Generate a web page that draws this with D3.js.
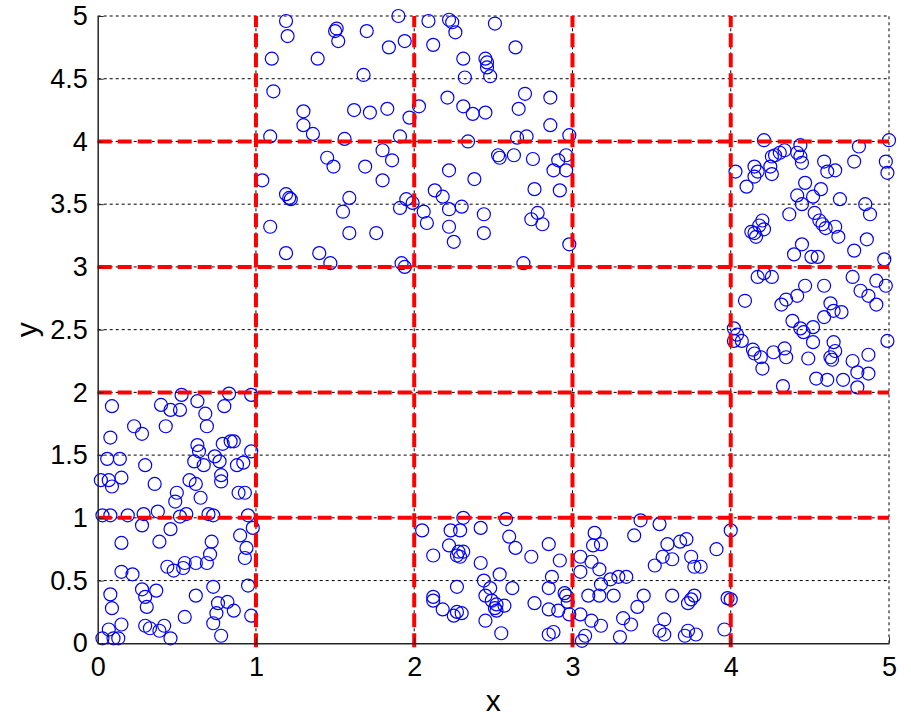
<!DOCTYPE html>
<html>
<head>
<meta charset="utf-8">
<script src="https://cdn.jsdelivr.net/npm/d3@7"></script>
<style>
  body { margin: 0; background: #fff; }
  svg { display: block; }
  .tick text { font-family: "Liberation Sans", Arial, sans-serif; font-size: 27px; fill: #000; }
</style>
</head>
<body>
<div id="chart"></div>
<script>
// cluster in x 0-1, y 0-2
var clusterA = [
  [0.53,1.98],[0.83,1.99],[0.97,1.98],[0.09,1.89],[0.40,1.90],[0.46,1.86],[0.52,1.86],[0.63,1.93],
  [0.68,1.83],[0.80,1.89],[0.23,1.73],[0.28,1.67],[0.43,1.73],[0.69,1.73],[0.08,1.64],[0.63,1.58],
  [0.64,1.53],[0.79,1.59],[0.84,1.61],[0.86,1.61],[0.97,1.53],[0.06,1.47],[0.14,1.47],[0.61,1.45],
  [0.67,1.42],[0.74,1.49],[0.77,1.45],[0.30,1.42],[0.88,1.42],[0.92,1.44],[0.02,1.30],[0.07,1.30],
  [0.09,1.25],[0.15,1.32],[0.36,1.27],[0.58,1.30],[0.62,1.27],[0.78,1.34],[0.78,1.29],[0.89,1.20],
  [0.93,1.20],[0.50,1.20],[0.49,1.13],[0.65,1.16],[0.38,1.05],
  [0.03,1.02],[0.08,1.02],[0.19,1.02],[0.29,1.03],[0.52,1.01],[0.56,1.03],[0.70,1.03],[0.73,1.02],
  [0.95,1.02],[0.28,0.94],[0.46,0.91],[0.90,0.86],[0.98,0.92],[0.15,0.80],[0.39,0.81],[0.72,0.81],
  [0.94,0.76],[0.71,0.71],[0.69,0.64],[0.93,0.68],[0.62,0.64],[0.55,0.64],[0.54,0.60],[0.44,0.61],
  [0.48,0.58],[0.15,0.57],[0.22,0.55],[0.08,0.39],[0.09,0.28],[0.28,0.43],[0.30,0.37],[0.31,0.29],
  [0.37,0.42],[0.62,0.38],[0.73,0.45],[0.95,0.46],[0.76,0.32],[0.82,0.33],[0.75,0.24],[0.86,0.26],
  [0.55,0.21],[0.97,0.22],[0.73,0.16],[0.15,0.15],[0.07,0.11],[0.30,0.14],[0.33,0.12],[0.42,0.14],
  [0.39,0.10],[0.03,0.04],[0.10,0.04],[0.13,0.04],[0.46,0.04],[0.78,0.06]
];
// cluster in x 1-3, y 3-5
var clusterB = [
  [1.19,4.96],[1.90,5.00],[1.20,4.84],[1.50,4.88],[1.51,4.90],[1.52,4.80],[1.70,4.88],[1.94,4.80],
  [1.84,4.75],[1.10,4.66],[1.39,4.66],[1.68,4.53],[1.11,4.40],[1.30,4.24],[1.30,4.13],[1.36,4.06],
  [1.62,4.25],[1.72,4.23],[1.83,4.26],[1.97,4.19],[2.03,4.28],[1.09,4.04],[1.56,4.02],[1.91,4.04],
  [1.45,3.87],[1.49,3.80],[1.69,3.80],[1.80,3.93],[1.86,3.85],[1.04,3.69],[1.80,3.69],[1.19,3.58],
  [1.21,3.55],[1.22,3.54],[1.59,3.55],[1.55,3.44],[1.91,3.47],[1.95,3.54],[1.99,3.51],[1.09,3.32],
  [1.59,3.27],[1.76,3.27],[1.19,3.11],[1.40,3.11],[1.47,3.03],[1.92,3.03],[1.94,3.00],
  [2.09,4.96],[2.22,4.97],[2.24,4.95],[2.26,4.87],[2.51,4.94],[2.12,4.77],[2.64,4.75],[2.31,4.66],
  [2.45,4.66],[2.46,4.63],[2.46,4.59],[2.32,4.51],[2.48,4.52],[2.21,4.35],[2.70,4.38],[2.86,4.35],
  [2.31,4.28],[2.37,4.22],[2.45,4.23],[2.66,4.26],[2.86,4.13],[2.65,4.03],[2.71,4.04],[2.98,4.05],
  [2.34,4.00],[2.53,3.89],[2.54,3.87],[2.63,3.89],[2.75,3.86],[2.91,3.85],[2.96,3.89],[2.88,3.77],
  [2.96,3.77],[2.22,3.77],[2.38,3.70],[2.13,3.61],[2.18,3.56],[2.76,3.62],[2.92,3.61],[2.06,3.44],
  [2.08,3.35],[2.22,3.46],[2.30,3.48],[2.44,3.42],[2.78,3.43],[2.74,3.38],[2.81,3.34],[2.22,3.32],
  [2.44,3.27],[2.25,3.20],[2.98,3.18],[2.69,3.03]
];
// cluster in x 4-5, y 2-4
var clusterC = [
  [4.21,4.01],[4.44,3.97],[4.81,3.96],[5.00,4.01],[4.34,3.93],[4.31,3.91],[4.28,3.89],[4.26,3.88],
  [4.42,3.91],[4.44,3.88],[4.45,3.83],[4.59,3.84],[4.61,3.76],[4.66,3.77],[4.78,3.84],[4.98,3.84],
  [4.99,3.75],[4.03,3.76],[4.15,3.80],[4.17,3.76],[4.15,3.72],[4.25,3.80],[4.26,3.74],[4.10,3.64],
  [4.47,3.67],[4.42,3.57],[4.52,3.56],[4.57,3.62],[4.69,3.54],[4.45,3.50],[4.85,3.50],[4.88,3.42],
  [4.37,3.42],[4.53,3.43],[4.56,3.37],[4.58,3.34],[4.60,3.31],[4.66,3.32],[4.68,3.24],[4.20,3.37],
  [4.18,3.33],[4.21,3.30],[4.13,3.28],[4.16,3.24],[4.15,3.27],[4.86,3.22],[4.45,3.18],[4.40,3.10],
  [4.51,3.08],[4.55,3.08],[4.78,3.13],[4.97,3.06],
  [4.17,2.92],[4.21,2.95],[4.26,2.92],[4.77,2.92],[4.92,2.89],[4.98,2.85],[4.47,2.85],[4.59,2.85],
  [4.82,2.81],[4.87,2.77],[4.92,2.70],[4.09,2.73],[4.42,2.77],[4.35,2.74],[4.32,2.70],[4.63,2.71],
  [4.65,2.65],[4.70,2.64],[4.59,2.60],[4.39,2.57],[4.52,2.52],[4.44,2.51],[4.46,2.48],[4.02,2.51],
  [4.04,2.46],[4.07,2.41],[4.02,2.41],[4.52,2.40],[4.65,2.40],[4.99,2.41],[4.14,2.34],[4.15,2.31],
  [4.19,2.28],[4.27,2.32],[4.34,2.35],[4.35,2.28],[4.49,2.27],[4.66,2.33],[4.63,2.28],[4.64,2.26],
  [4.87,2.30],[4.77,2.25],[4.20,2.19],[4.80,2.16],[4.87,2.15],[4.54,2.11],[4.61,2.10],[4.71,2.10],
  [4.33,2.05],[4.80,2.04]
];
// cluster in x 2-4, y 0-1
var clusterD = [
  [2.31,1.00],[2.58,0.99],[2.05,0.90],[2.23,0.90],[2.29,0.90],[2.42,0.92],[2.60,0.85],[2.64,0.76],
  [2.85,0.79],[2.22,0.78],[2.12,0.70],[2.28,0.73],[2.31,0.73],[2.27,0.70],[2.29,0.69],[2.74,0.69],
  [2.92,0.66],[2.42,0.64],[2.54,0.55],[2.87,0.53],[2.44,0.50],[2.27,0.45],[2.48,0.44],[2.62,0.44],
  [2.85,0.44],[2.45,0.38],[2.12,0.37],[2.12,0.34],[2.49,0.34],[2.52,0.31],[2.51,0.28],[2.57,0.30],
  [2.52,0.26],[2.76,0.32],[2.95,0.40],[2.96,0.38],[2.97,0.33],[2.18,0.27],[2.27,0.25],[2.25,0.22],
  [2.30,0.24],[2.45,0.18],[2.85,0.27],[2.91,0.26],[2.98,0.23],[2.55,0.08],[2.85,0.07],[2.88,0.09],
  [3.43,0.98],[3.55,0.95],[3.14,0.88],[3.39,0.86],[4.00,0.90],[3.13,0.78],[3.18,0.79],[3.60,0.79],
  [3.68,0.81],[3.72,0.83],[3.91,0.75],[3.05,0.69],[3.57,0.69],[3.63,0.67],[3.52,0.62],[3.75,0.69],
  [3.77,0.61],[3.81,0.61],[3.05,0.57],[3.12,0.65],[3.17,0.59],[3.24,0.51],[3.29,0.53],[3.34,0.53],
  [3.18,0.47],[3.10,0.38],[3.17,0.38],[3.26,0.38],[3.45,0.38],[3.63,0.38],[3.77,0.38],[3.75,0.35],
  [3.73,0.32],[3.98,0.36],[4.00,0.35],[3.41,0.29],[3.05,0.23],[3.12,0.18],[3.18,0.14],[3.32,0.20],
  [3.37,0.15],[3.58,0.19],[3.55,0.10],[3.58,0.07],[3.73,0.10],[3.71,0.06],[3.78,0.07],[3.96,0.11],
  [3.08,0.06],[3.06,0.02],[3.30,0.05]
];

var xTicks = [0, 1, 2, 3, 4, 5];
var yTicks = [0, 0.5, 1, 1.5, 2, 2.5, 3, 3.5, 4, 4.5, 5];
var partLines = [1, 2, 3, 4];

var width = 911, height = 718;
var mLeft = 97.7, mRight = 889, mTop = 16, mBottom = 643.3;

var svg = d3.select("#chart").append("svg")
    .attr("width", width)
    .attr("height", height);

var x = d3.scaleLinear().domain([0, 5]).range([mLeft, mRight]);
var y = d3.scaleLinear().domain([0, 5]).range([mBottom, mTop]);

// dotted grid
var grid = svg.append("g");
grid.selectAll("line.gx")
    .data(xTicks.filter(function(d){ return d > 0; }))
    .enter().append("line")
    .attr("x1", x).attr("x2", x)
    .attr("y1", y(0)).attr("y2", y(5))
    .attr("stroke", "#000").attr("stroke-width", 1)
    .attr("stroke-dasharray", "3,3");
grid.selectAll("line.gy")
    .data(yTicks.filter(function(d){ return d > 0; }))
    .enter().append("line")
    .attr("x1", x(0)).attr("x2", x(5))
    .attr("y1", y).attr("y2", y)
    .attr("stroke", "#000").attr("stroke-width", 1)
    .attr("stroke-dasharray", "3,3");

// points
var allPts = clusterA.concat(clusterB, clusterC, clusterD);
svg.append("g").selectAll("circle")
    .data(allPts)
    .enter().append("circle")
    .attr("cx", function(d){ return x(d[0]); })
    .attr("cy", function(d){ return y(d[1]); })
    .attr("r", 6.5)
    .attr("fill", "none")
    .attr("stroke", "#0000ff")
    .attr("stroke-width", 1.2);

// red partition lines
var red = svg.append("g");
red.selectAll("line.rv")
    .data(partLines)
    .enter().append("line")
    .attr("x1", x).attr("x2", x)
    .attr("y1", y(0) + 4).attr("y2", y(5))
    .attr("stroke", "#ff0000").attr("stroke-width", 4)
    .attr("stroke-dasharray", "14,6");
red.selectAll("line.rh")
    .data(partLines)
    .enter().append("line")
    .attr("x1", x(0)).attr("x2", x(5))
    .attr("y1", y).attr("y2", y)
    .attr("stroke", "#ff0000").attr("stroke-width", 4)
    .attr("stroke-dasharray", "14,6");

// axes
var xAxis = d3.axisBottom(x).tickValues(xTicks).tickSizeInner(-6).tickSizeOuter(0)
    .tickPadding(14).tickFormat(d3.format("~g"));
var yAxis = d3.axisLeft(y).tickValues(yTicks).tickSizeInner(-6).tickSizeOuter(0)
    .tickPadding(10).tickFormat(d3.format("~g"));

var gx = svg.append("g").attr("transform", "translate(0," + mBottom + ")").call(xAxis);
var gy = svg.append("g").attr("transform", "translate(" + mLeft + ",0)").call(yAxis);
[gx, gy].forEach(function(g){
  g.select(".domain").attr("stroke", "#262626").attr("stroke-width", 1.5);
  g.selectAll(".tick line").attr("stroke", "#262626");
});

svg.append("text")
    .attr("x", x(2.5)).attr("y", 711)
    .attr("text-anchor", "middle")
    .style("font-family", "Liberation Sans, Arial, sans-serif")
    .style("font-size", "30px")
    .text("x");
svg.append("text")
    .attr("transform", "translate(37," + y(2.5) + ") rotate(-90)")
    .attr("text-anchor", "middle")
    .style("font-family", "Liberation Sans, Arial, sans-serif")
    .style("font-size", "30px")
    .text("y");
</script>
</body>
</html>
